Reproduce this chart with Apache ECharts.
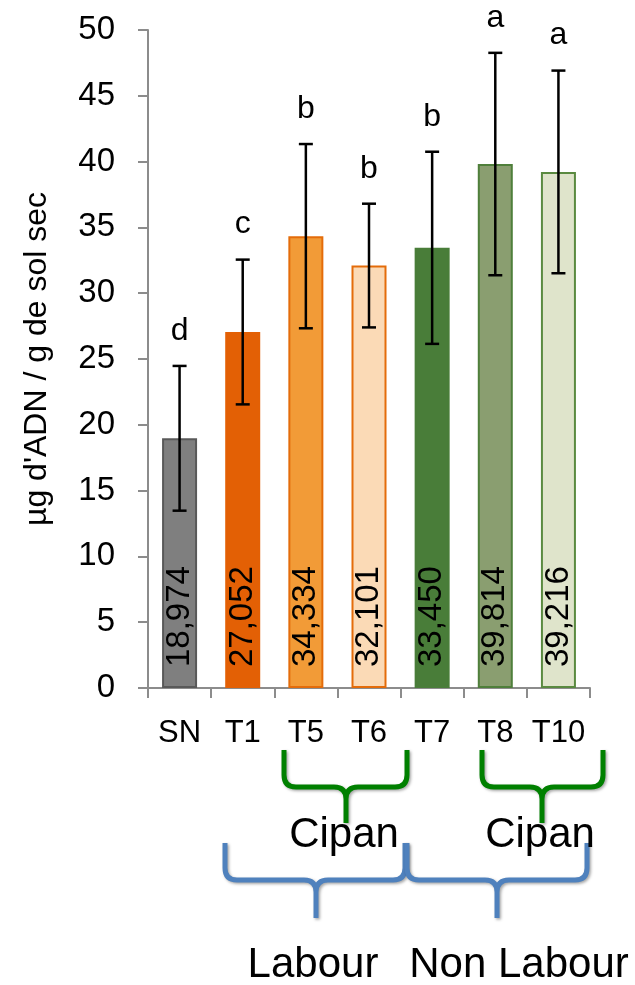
<!DOCTYPE html>
<html><head><meta charset="utf-8">
<script src="https://cdn.jsdelivr.net/npm/echarts@6/dist/echarts.min.js"></script>
<style>html,body{margin:0;padding:0;background:#fff}#c{width:635px;height:985px}</style>
</head><body><div id="c"></div>
<script>
const categories = ['SN', 'T1', 'T5', 'T6', 'T7', 'T8', 'T10'];
const values = [18.974, 27.052, 34.334, 32.101, 33.450, 39.814, 39.216];
const errors = [5.5, 5.5, 7.0, 4.7, 7.3, 8.45, 7.7];
const letters = ['d', 'c', 'b', 'b', 'b', 'a', 'a'];
const fills = ['#7F7F7F', '#E36005', '#F29B37', '#FBDAB6', '#497D39', '#8A9E70', '#DFE4CB'];
const borders = ['#595959', '#E36005', '#E46C0A', '#E46C0A', '#497D39', '#4F7F3B', '#5A8A40'];
const yAxisName = "\u00b5g d'ADN / g de sol sec";
const groupLabels = ['Cipan', 'Cipan', 'Labour', 'Non Labour'];

const FONT = '"Liberation Sans", Arial, sans-serif';
const chart = echarts.init(document.getElementById('c'), null, {renderer: 'canvas'});

function brace(x0, x1, xm, yTop, yArm, yTip, r) {
  return 'M' + x0 + ',' + yTop + ' L' + x0 + ',' + (yArm - r) + ' Q' + x0 + ',' + yArm + ' ' + (x0 + r) + ',' + yArm +
    ' L' + (xm - r) + ',' + yArm + ' Q' + xm + ',' + yArm + ' ' + xm + ',' + (yArm + r) + ' L' + xm + ',' + yTip +
    ' M' + x1 + ',' + yTop + ' L' + x1 + ',' + (yArm - r) + ' Q' + x1 + ',' + yArm + ' ' + (x1 - r) + ',' + yArm +
    ' L' + (xm + r) + ',' + yArm + ' Q' + xm + ',' + yArm + ' ' + xm + ',' + (yArm + r);
}
const braceDefs = [
  {d: brace(284, 407, 346, 750, 787, 823, 12), c: '#008000'},
  {d: brace(482, 603, 542, 750, 787, 823, 12), c: '#008000'},
  {d: brace(225, 405, 316, 843, 880, 918, 12), c: '#4F81BD'},
  {d: brace(407, 587, 497, 843, 880, 918, 12), c: '#4F81BD'}
];

const option = {
  animation: false,
  backgroundColor: '#fff',
  textStyle: {fontFamily: FONT},
  grid: {left: 148, right: 45, top: 30, bottom: 297, containLabel: false},
  xAxis: {
    type: 'category',
    data: categories,
    axisLine: {show: true, lineStyle: {color: '#8C8C8C', width: 2}},
    axisTick: {show: true, length: 10, lineStyle: {color: '#8C8C8C', width: 2}},
    axisLabel: {interval: 0, fontSize: 31, color: '#000', margin: 30, fontFamily: FONT}
  },
  yAxis: {
    type: 'value', min: 0, max: 50, interval: 5,
    name: yAxisName, nameLocation: 'middle', nameGap: 95, nameRotate: 90,
    nameTextStyle: {fontSize: 32, color: '#000', fontFamily: FONT},
    axisLine: {show: true, lineStyle: {color: '#8C8C8C', width: 2}},
    axisTick: {show: true, length: 10, lineStyle: {color: '#8C8C8C', width: 2}},
    axisLabel: {fontSize: 33, color: '#000', margin: 33, fontFamily: FONT},
    splitLine: {show: false}
  },
  series: [
    {
      type: 'bar',
      barWidth: 35,
      data: values.map((v, i) => ({value: v, itemStyle: {color: fills[i], borderColor: borders[i], borderWidth: 2}})),
      label: {
        show: true, position: 'insideBottom', distance: 21, rotate: 90,
        align: 'left', verticalAlign: 'middle',
        fontSize: 33, color: '#000', fontFamily: FONT,
        formatter: p => p.value.toFixed(3).replace('.', ',')
      },
      z: 2
    },
    {
      type: 'custom',
      z: 5,
      data: values.map((v, i) => [i, v, errors[i]]),
      encode: {x: 0, y: 1},
      renderItem: function (params, api) {
        const i = api.value(0), v = api.value(1), e = api.value(2);
        const top = api.coord([i, v + e]);
        const bot = api.coord([i, v - e]);
        const h = 7;
        const st = {stroke: '#000', lineWidth: 2.5};
        return {
          type: 'group',
          children: [
            {type: 'line', shape: {x1: top[0], y1: top[1], x2: bot[0], y2: bot[1]}, style: st},
            {type: 'line', shape: {x1: top[0] - h, y1: top[1], x2: top[0] + h, y2: top[1]}, style: st},
            {type: 'line', shape: {x1: bot[0] - h, y1: bot[1], x2: bot[0] + h, y2: bot[1]}, style: st},
            {type: 'text', style: {text: letters[i], x: top[0], y: top[1] - 19, align: 'center', verticalAlign: 'bottom',
              fontSize: 32, fontFamily: FONT, fill: '#000'}}
          ]
        };
      }
    },
    {
      type: 'custom',
      z: 6,
      data: [[0, 0]],
      encode: {x: 0, y: 1},
      renderItem: function () {
        return {
          type: 'group',
          children: braceDefs.map(b => ({
            type: 'path', shape: {pathData: b.d},
            style: {fill: null, stroke: b.c, lineWidth: 5, lineJoin: 'round',
              shadowBlur: 3, shadowColor: 'rgba(0,0,0,0.35)', shadowOffsetX: 1.5, shadowOffsetY: 1.5}
          }))
        };
      }
    }
  ],
  graphic: [
    {type: 'text', z: 10, style: {text: groupLabels[0], x: 344, y: 835, align: 'center', verticalAlign: 'middle', fontSize: 42, fontFamily: FONT, fill: '#000'}},
    {type: 'text', z: 10, style: {text: groupLabels[1], x: 540, y: 835, align: 'center', verticalAlign: 'middle', fontSize: 42, fontFamily: FONT, fill: '#000'}},
    {type: 'text', z: 10, style: {text: groupLabels[2], x: 313, y: 965, align: 'center', verticalAlign: 'middle', fontSize: 42, fontFamily: FONT, fill: '#000'}},
    {type: 'text', z: 10, style: {text: groupLabels[3], x: 519, y: 965, align: 'center', verticalAlign: 'middle', fontSize: 42, fontFamily: FONT, fill: '#000'}}
  ]
};
chart.setOption(option);
</script>
</body></html>
